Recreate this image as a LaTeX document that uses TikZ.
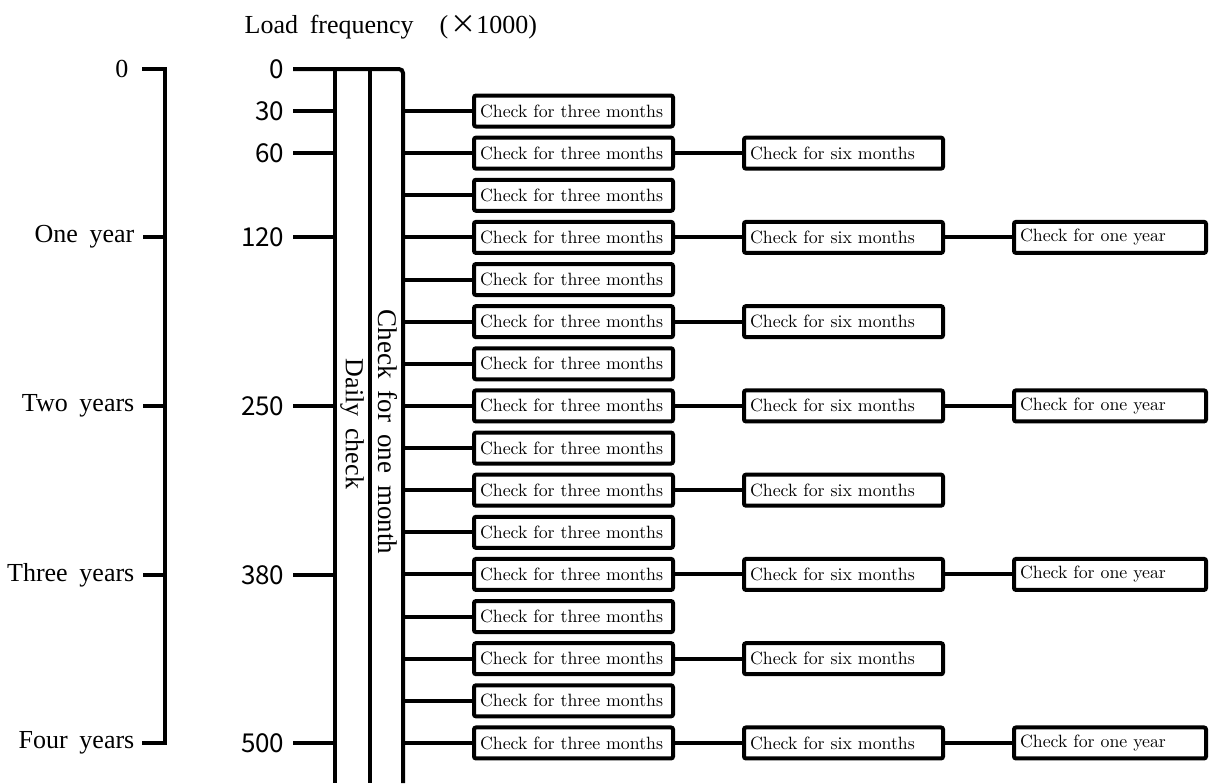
\documentclass[tikz,border=0pt]{standalone}
\usepackage{fontspec}
\setmainfont{Liberation Serif}[WordSpace=1.8]
\newfontfamily\numfont{Noto Sans CJK JP}
\newfontfamily\boxfont{lmroman10-regular}[Extension=.otf,WordSpace=2]
\usetikzlibrary{positioning}

\tikzset{
	lbl/.style={font=\fontsize{13}{15}\selectfont},
	num/.style={font=\numfont\fontsize{13}{15}\selectfont},
	chk/.style={draw, line width=2pt, rounded corners=1pt, anchor=west, align=left,
		minimum height=15.5pt, inner xsep=3pt, inner ysep=0pt, text width=93.5pt,
		font=\boxfont\fontsize{8.9}{10}\selectfont},
}

\begin{document}
\begin{tikzpicture}[x=0.5pt,y=-0.5pt,line width=2pt]
	\useasboundingbox (0,0) rectangle (1221,783);
	
	\node[lbl,anchor=west] (title) at (236,27) {Load frequency\quad(\hspace{1pt}{\numfont ×}1000)};
	
	% years
	\node[lbl,anchor=east] (y0) at (137,69) {0};
	\draw (y0.east) ++(5,0) coordinate (t0) -- (165,69) -- (165,743) -- (142,743);
	\foreach \y/\t/\n in {237/One year/1, 406/Two years/2, 575/Three years/3, 743/Four years/4}{
		\node[lbl,anchor=east] (yr\n) at (143,\y) {\t};
		\draw (yr\n.east) -- (165,\y);
	}
	
	% load frequency
	\node[num,anchor=east] (n0) at (293,69) {0};
	\draw[rounded corners=2pt] (n0.east) -- (403,69) -- (403,783);
	\draw (335,69) -- (335,783);
	\draw (370,69) -- (370,783);
	\foreach \y/\t in {111/30, 153/60, 237/120, 406/250, 575/380, 743/500}{
		\node[num,anchor=east] (n\t) at (293,\y) {\t};
		\draw (n\t.east) -- (335,\y);
	}
	\node[lbl,rotate=-90] (daily) at (352,424) {Daily check};
	\node[lbl,rotate=-90,font=\fontsize{13.5}{15}\selectfont] (month) at (388,432) {Check for one month};
	
	% checks
	\foreach \i in {0,...,15}{
		\pgfmathsetmacro\yy{111+42.13*\i}
		\node[chk] (three\i) at (472,\yy) {Check for three months};
		\draw (403,\yy) -- (three\i.west);
	}
	\foreach \i in {1,3,...,15}{
		\node[chk] (six\i) at (742,{111+42.13*\i}) {Check for six months};
		\draw (three\i.east) -- (six\i.west);
	}
	\foreach \i in {3,7,11,15}{
		\node[chk,text width=90pt] (year\i) at (1012,{111+42.13*\i}) {Check for one year};
		\draw (six\i.east) -- (year\i.west);
	}
\end{tikzpicture}
\end{document}
